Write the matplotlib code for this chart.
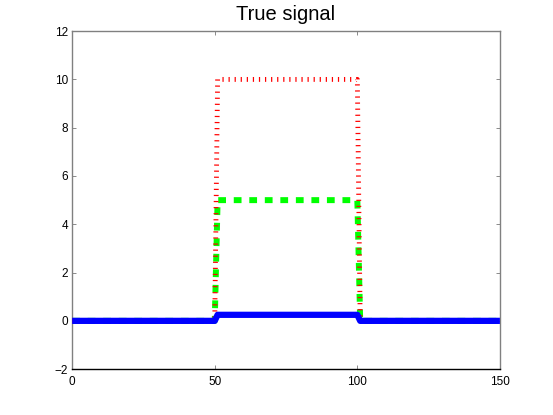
import numpy as np
import matplotlib
matplotlib.use("Agg")
import matplotlib.pyplot as plt

plt.rcParams['font.family'] = ['Liberation Sans', 'DejaVu Sans']

# Data
x = np.arange(0, 151)
in_box = (x >= 51) & (x <= 100)
red_level = 10.0
green_level = 5.0
blue_level = 0.25
red_vals = np.where(in_box, red_level, 0.0)
green_vals = np.where(in_box, green_level, 0.0)
blue_vals = np.where(in_box, blue_level, 0.0)

title = "True signal"
xticks = [0, 50, 100, 150]
yticks = [-2, 0, 2, 4, 6, 8, 10, 12]

fig = plt.figure(figsize=(5.53, 4.15), dpi=100)
ax = fig.add_axes([0.1305, 0.1105, 0.7735, 0.8145])

ax.plot(x, red_vals, color=(1, 0, 0), linewidth=3.5,
        linestyle=(0, (0.25, 1.0)), dash_capstyle='butt', solid_capstyle='butt', zorder=3)
ax.plot(x, green_vals, color=(0, 1, 0), linewidth=4.3,
        linestyle=(0, (1.3, 1.3)), dash_capstyle='butt', zorder=2)
ax.plot(x, blue_vals, color=(0, 0, 1), linewidth=4.5, solid_capstyle='butt', zorder=4)

ax.set_xlim(0, 150)
ax.set_ylim(-2, 12)
ax.set_xticks(xticks)
ax.set_yticks(yticks)
ax.set_xticklabels([str(t) for t in xticks])
ax.set_yticklabels([str(t).replace('-', '\u2212') for t in yticks])
ax.tick_params(direction='in', length=3, width=0.6, labelsize=8.5, colors='black',
               top=True, right=True)
ax.tick_params(axis='x', pad=5)
ax.tick_params(axis='y', pad=3)
ax.tick_params(axis='both', color='#777777')
for s in ['left', 'right', 'top']:
    ax.spines[s].set_color('#808080')
    ax.spines[s].set_linewidth(1.0)
ax.spines['bottom'].set_color('black')
ax.spines['bottom'].set_linewidth(1.0)
ax.set_title(title, fontsize=14.5, pad=8)

fig.savefig("out.png", dpi=100)
